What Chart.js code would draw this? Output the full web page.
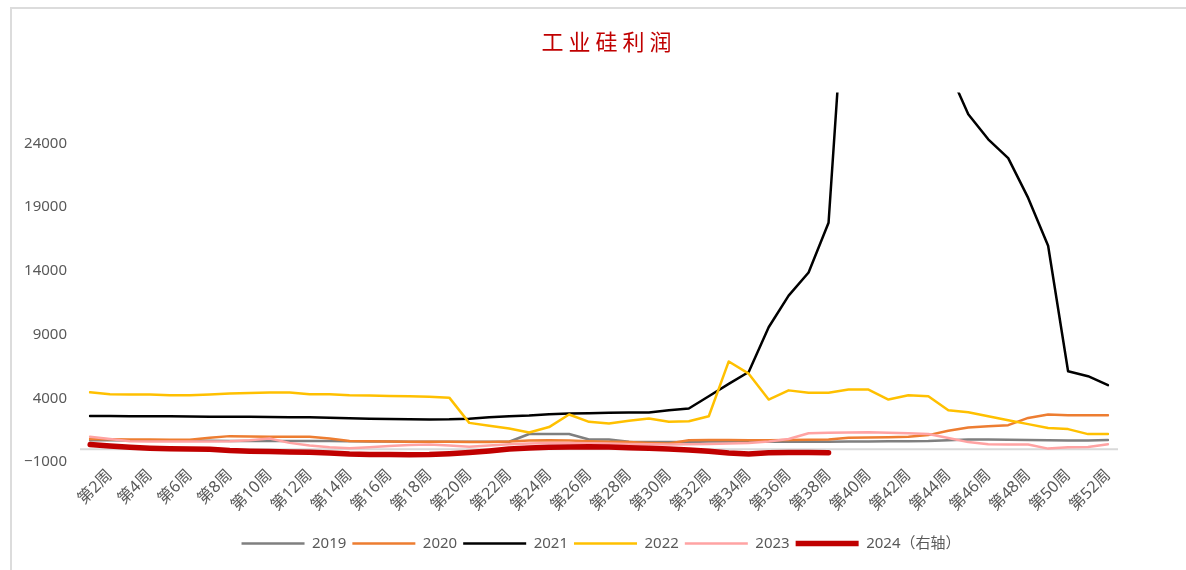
<!DOCTYPE html>
<html>
<head>
<meta charset="utf-8">
<script src="https://cdn.jsdelivr.net/npm/chart.js@4.4.0/dist/chart.umd.min.js"></script>
<style>
  html, body { margin: 0; padding: 0; background: #fff; }
  #wrap { position: relative; width: 1186px; height: 570px; }
  #frame { position: absolute; left: 10px; top: 7px; right: 0; bottom: 0;
           border-left: 2px solid #dcdcdc; border-top: 2px solid #dcdcdc; pointer-events: none; }
</style>
</head>
<body>
<div id="wrap">
  <canvas id="myChart" width="1186" height="570"></canvas>
  <div id="frame"></div>
</div>
<script>
const weeks = ['第1周','第2周','第3周','第4周','第5周','第6周','第7周','第8周','第9周','第10周',
  '第11周','第12周','第13周','第14周','第15周','第16周','第17周','第18周','第19周','第20周',
  '第21周','第22周','第23周','第24周','第25周','第26周','第27周','第28周','第29周','第30周',
  '第31周','第32周','第33周','第34周','第35周','第36周','第37周','第38周','第39周','第40周',
  '第41周','第42周','第43周','第44周','第45周','第46周','第47周','第48周','第49周','第50周',
  '第51周','第52周'];

const y2019 = [700,700,690,680,670,660,660,650,650,650,650,650,640,620,600,600,590,590,590,590,
  590,590,1200,1200,1200,770,770,590,560,560,560,600,620,600,590,580,580,590,600,600,
  620,630,640,700,770,770,740,720,700,680,690,720];
const y2020 = [800,780,770,760,740,740,900,1030,1000,980,980,980,850,650,620,600,590,590,580,560,
  560,600,680,700,680,620,580,560,500,460,700,720,720,700,700,720,740,770,900,920,
  950,980,1110,1450,1710,1810,1890,2460,2720,2670,2670,2670];
const y2021 = [2600,2600,2590,2580,2580,2570,2560,2550,2550,2540,2520,2510,2480,2440,2400,2370,2350,2340,2350,2400,
  2520,2590,2650,2750,2800,2830,2870,2880,2880,3060,3200,4160,5130,6060,9570,12050,13870,17770,41000,45000,
  43000,38000,33000,29800,26290,24320,22840,19720,15970,6120,5730,5030];
const y2022 = [4470,4310,4300,4290,4230,4230,4300,4370,4420,4450,4450,4310,4310,4230,4220,4180,4150,4120,4050,2070,
  1850,1630,1320,1740,2730,2150,2020,2230,2410,2150,2200,2590,6890,5930,3900,4620,4440,4440,4680,4680,
  3900,4230,4160,3060,2900,2590,2280,1970,1660,1580,1190,1190];
const y2023 = [980,800,620,600,600,600,600,620,700,850,500,300,150,70,150,250,330,380,300,200,
  300,400,450,500,500,480,450,420,400,380,400,420,450,500,600,800,1250,1300,1320,1340,
  1300,1260,1200,880,560,400,380,380,50,150,170,400];
// 2024 sits on the (hidden) right axis
const y2024 = [380,250,150,80,40,20,0,-100,-150,-180,-220,-240,-300,-380,-420,-420,-430,-420,-350,-250,
  -130,20,100,150,180,200,170,120,70,20,-50,-150,-300,-370,-280,-250,-260,-270,null,null,
  null,null,null,null,null,null,null,null,null,null,null,null];

const yTicks = [-1000, 4000, 9000, 14000, 19000, 24000];
const yMin = -1000, yMax = 28000;

const font = "'Noto Sans', 'Noto Sans CJK SC', sans-serif";

// draw the x axis line through zero
const zeroLine = {
  id: 'zeroLine',
  beforeDatasetsDraw(chart) {
    const {ctx, chartArea, scales} = chart;
    const y = scales.y.getPixelForValue(0);
    ctx.save();
    ctx.strokeStyle = '#d9d9d9';
    ctx.lineWidth = 2;
    ctx.beginPath();
    ctx.moveTo(chartArea.left - 10, y);
    ctx.lineTo(chartArea.right + 10, y);
    ctx.stroke();
    ctx.restore();
  }
};

// a bit of letter spacing on the title
const spacedTitle = {
  id: 'spacedTitle',
  afterInit(chart) {
    const block = chart.titleBlock;
    if (!block) return;
    const draw = block.draw.bind(block);
    block.draw = function () {
      chart.ctx.save();
      chart.ctx.letterSpacing = '5px';
      chart.ctx.translate(8, 0);
      draw();
      chart.ctx.restore();
    };
  }
};

function ds(label, data, color, width, order, axis) {
  return {
    label: label,
    data: data,
    borderColor: color,
    backgroundColor: color,
    borderWidth: width,
    pointRadius: 0,
    pointHoverRadius: 0,
    tension: 0,
    fill: false,
    order: order,
    yAxisID: axis || 'y',
    borderCapStyle: 'round',
    borderJoinStyle: 'round',
    spanGaps: false
  };
}

var ctx = document.getElementById('myChart').getContext('2d');
new Chart(ctx, {
  type: 'line',
  data: {
    labels: weeks,
    datasets: [
      ds('2019', y2019, '#7f7f7f', 2.5, 6),
      ds('2020', y2020, '#ed7d31', 2.5, 5),
      ds('2021', y2021, '#000000', 2.5, 4),
      ds('2022', y2022, '#ffc000', 2.5, 3),
      ds('2023', y2023, '#ffa3a3', 2.5, 2),
      ds('2024（右轴）', y2024, '#c00000', 5.5, 1, 'y1')
    ]
  },
  plugins: [zeroLine, spacedTitle],
  options: {
    responsive: false,
    animation: false,
    layout: { padding: { left: 20, right: 4, top: 10, bottom: 9 } },
    plugins: {
      title: {
        display: true,
        text: '工业硅利润',
        color: '#c00000',
        font: { family: "'Noto Sans CJK SC', sans-serif", size: 22, weight: 'normal' },
        padding: { top: 18, bottom: 38 }
      },
      legend: {
        position: 'bottom',
        labels: {
          usePointStyle: true,
          pointStyle: 'line',
          pointStyleWidth: 63,
          color: '#595959',
          padding: 6,
          font: { family: font, size: 15 },
          sort: (a, b) => a.datasetIndex - b.datasetIndex
        }
      },
      tooltip: { enabled: false }
    },
    scales: {
      x: {
        grid: { display: false, drawTicks: false },
        border: { display: false },
        ticks: {
          autoSkip: false,
          maxRotation: 45,
          minRotation: 45,
          padding: 4,
          color: '#595959',
          font: { family: font, size: 16 },
          callback: function (v, i) { return i % 2 === 1 ? this.getLabelForValue(v) : ''; }
        },
        afterFit: s => { s.height = 68; }
      },
      y: {
        min: yMin,
        max: yMax,
        grid: { display: false, drawTicks: false },
        border: { display: false },
        afterBuildTicks: s => { s.ticks = yTicks.map(v => ({ value: v })); },
        ticks: {
          padding: 23,
          color: '#595959',
          font: { family: font, size: 15 },
          callback: v => (v < 0 ? '\u2212' + Math.abs(v) : String(v))
        },
        afterFit: s => { s.width = 70; }
      },
      y1: {
        position: 'right',
        min: yMin,
        max: yMax,
        grid: { display: false, drawTicks: false },
        border: { display: false },
        ticks: { display: false },
        afterFit: s => { s.width = 74; }
      }
    }
  }
});
</script>
</body>
</html>
